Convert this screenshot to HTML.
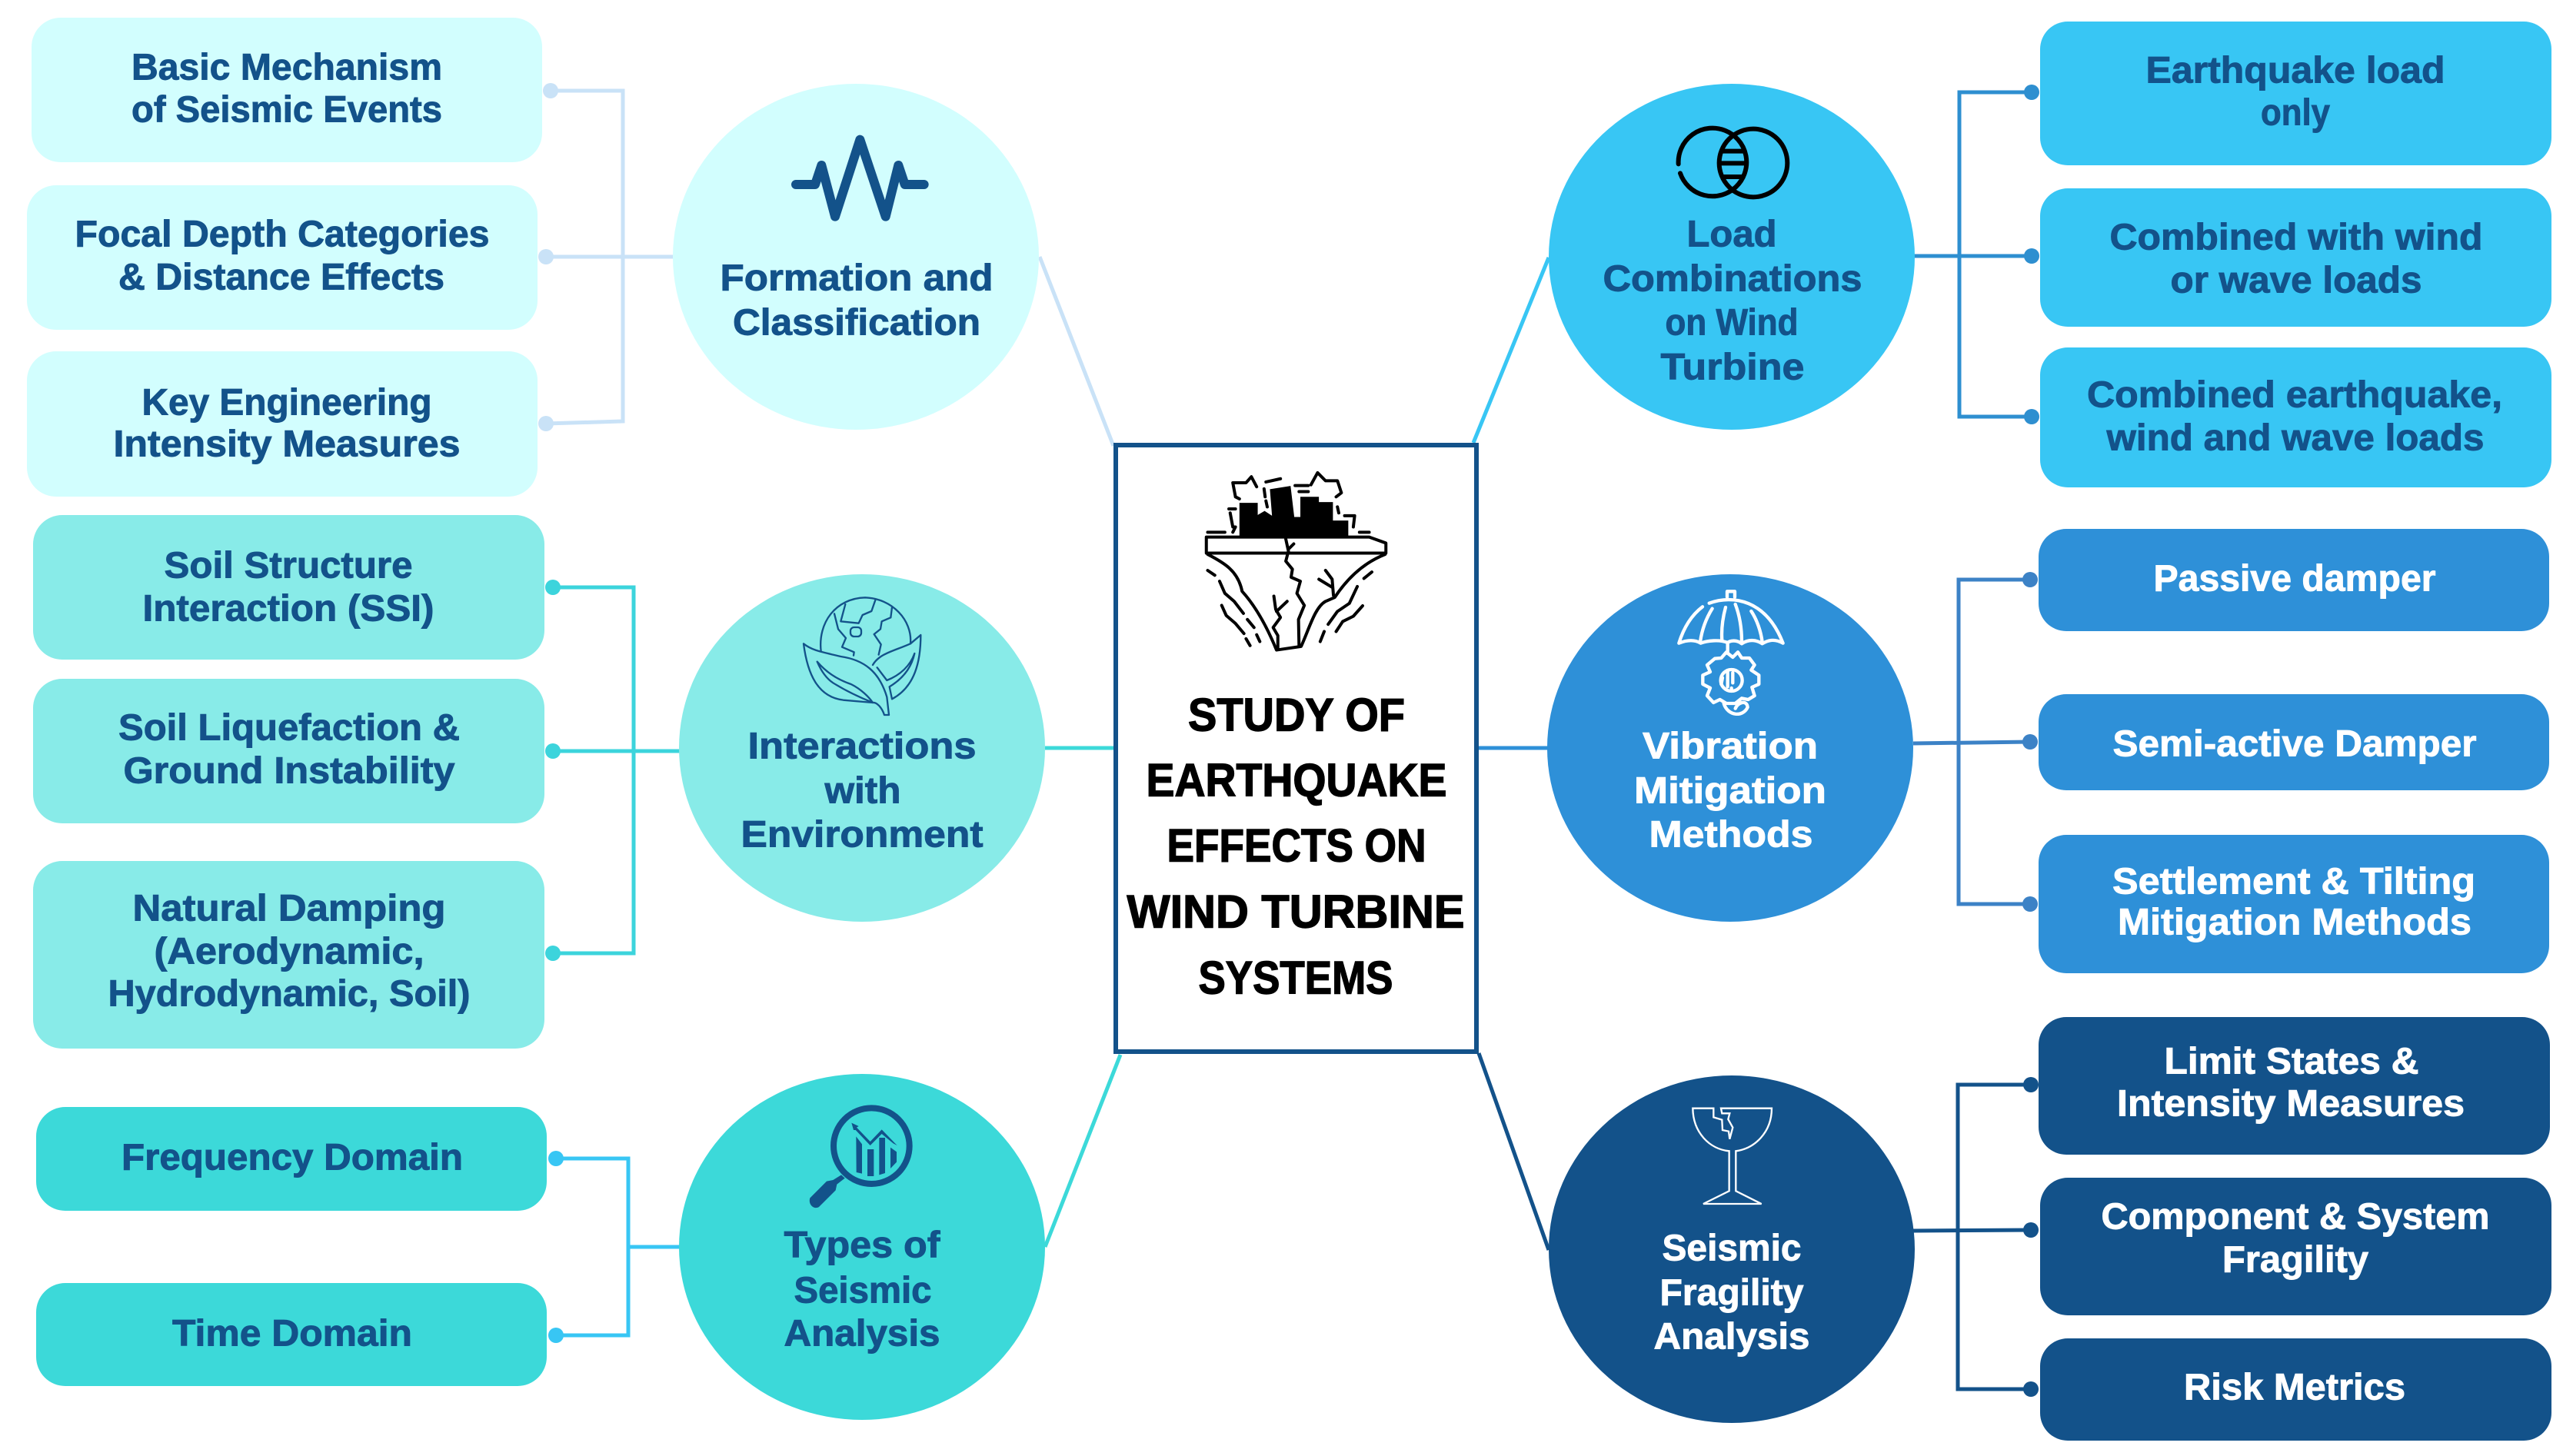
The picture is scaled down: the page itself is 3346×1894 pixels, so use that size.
<!DOCTYPE html>
<html><head><meta charset="utf-8"><style>
html,body{margin:0;padding:0;background:#fff}
svg{display:block}
text{font-family:"Liberation Sans",sans-serif;font-weight:700;font-size:48px;text-anchor:middle}
.d text{fill:#13528a;stroke:#13528a;stroke-width:.9px}
.w text{fill:#fff;stroke:#fff;stroke-width:.9px}
.tt text{fill:#000;stroke:#000;stroke-width:1.4px;font-size:60px}
</style></head><body>
<svg width="3346" height="1894" viewBox="0 0 3346 1894" xmlns="http://www.w3.org/2000/svg">
<rect width="3346" height="1894" fill="#fff"/>

<!-- main connectors -->
<g fill="none" stroke-width="5">
<path d="M1352,334 L1448,580" stroke="#c9e2f7"/>
<path d="M1359,973 H1450" stroke="#3cd9d9"/>
<path d="M1359,1622 L1457,1372" stroke="#3cd9d9"/>
<path d="M2014,335 L1916,576" stroke="#38c6f4"/>
<path d="M1921,973 H2014" stroke="#2e90d8"/>
<path d="M1923,1370 L2014,1626" stroke="#13528a"/>
</g>

<!-- branch connectors -->
<g fill="none" stroke="#c9e2f7" stroke-width="5">
<path d="M716,118 H810 V548 L710,551"/><path d="M710,334 H878"/>
</g>
<g fill="#c9e2f7"><circle cx="716" cy="118" r="10"/><circle cx="710" cy="334" r="10"/><circle cx="710" cy="551" r="10"/></g>
<g fill="none" stroke="#3cd4dc" stroke-width="5">
<path d="M719,764 H824 V1240 H719"/><path d="M719,977 H885"/>
</g>
<g fill="#3cd4dc"><circle cx="719" cy="764" r="10"/><circle cx="719" cy="977" r="10"/><circle cx="719" cy="1240" r="10"/></g>
<g fill="none" stroke="#38c6f4" stroke-width="5">
<path d="M723,1507 H817 V1737 H723"/><path d="M817,1622 L885,1622"/>
</g>
<g fill="#38c6f4"><circle cx="723" cy="1507" r="10"/><circle cx="723" cy="1737" r="10"/></g>
<g fill="none" stroke="#2e8fd0" stroke-width="5">
<path d="M2642,120 H2548 V542 H2642"/><path d="M2488,333 H2642"/>
</g>
<g fill="#2e8fd0"><circle cx="2642" cy="120" r="10"/><circle cx="2642" cy="333" r="10"/><circle cx="2642" cy="542" r="10"/></g>
<g fill="none" stroke="#3c82c6" stroke-width="5">
<path d="M2640,754 H2547 V1176 H2640"/><path d="M2488,967 L2640,965"/>
</g>
<g fill="#3c82c6"><circle cx="2640" cy="754" r="10"/><circle cx="2640" cy="965" r="10"/><circle cx="2640" cy="1176" r="10"/></g>
<g fill="none" stroke="#13528a" stroke-width="5">
<path d="M2641,1411 H2546 V1807 H2641"/><path d="M2488,1601 L2641,1600"/>
</g>
<g fill="#13528a"><circle cx="2641" cy="1411" r="10"/><circle cx="2641" cy="1600" r="10"/><circle cx="2641" cy="1807" r="10"/></g>

<!-- boxes left -->
<g fill="#d2fefe">
<rect x="41" y="23" width="664" height="188" rx="38"/>
<rect x="35" y="241" width="664" height="188" rx="38"/>
<rect x="35" y="457" width="664" height="189" rx="38"/>
</g>
<g fill="#88ebe8">
<rect x="43" y="670" width="665" height="188" rx="38"/>
<rect x="43" y="883" width="665" height="188" rx="38"/>
<rect x="43" y="1120" width="665" height="244" rx="38"/>
</g>
<g fill="#3cd9d9">
<rect x="47" y="1440" width="664" height="135" rx="38"/>
<rect x="47" y="1669" width="664" height="134" rx="38"/>
</g>
<!-- boxes right -->
<g fill="#38c6f4">
<rect x="2653" y="28" width="665" height="187" rx="36"/>
<rect x="2653" y="245" width="665" height="180" rx="36"/>
<rect x="2653" y="452" width="665" height="182" rx="36"/>
</g>
<g fill="#2e90d8">
<rect x="2651" y="688" width="664" height="133" rx="36"/>
<rect x="2651" y="903" width="664" height="125" rx="36"/>
<rect x="2651" y="1086" width="664" height="180" rx="36"/>
</g>
<g fill="#13528a">
<rect x="2651" y="1323" width="665" height="179" rx="36"/>
<rect x="2653" y="1532" width="665" height="179" rx="36"/>
<rect x="2653" y="1741" width="665" height="133" rx="36"/>
</g>

<!-- circles -->
<ellipse cx="1113" cy="334" rx="238" ry="225" fill="#d2fefe"/>
<ellipse cx="1121" cy="973" rx="238" ry="226" fill="#88ebe8"/>
<ellipse cx="1121" cy="1622" rx="238" ry="225" fill="#3cd9d9"/>
<ellipse cx="2252" cy="334" rx="238" ry="225" fill="#38c6f4"/>
<ellipse cx="2250" cy="973" rx="238" ry="226" fill="#2e90d8"/>
<ellipse cx="2252" cy="1625" rx="238" ry="226" fill="#13528a"/>

<!-- center box -->
<rect x="1451" y="579" width="469" height="789" fill="#fff" stroke="#13528a" stroke-width="6"/>

<!-- earthquake icon -->
<g transform="translate(1400,560) scale(.3444,.523)">
<path d="M615,268 L615,180 L684,180 L684,210 L710,200 L738,212 L730,146 L808,138 L822,215 L845,215 L845,165 L915,165 L915,178 L968,178 L968,224 L1026,224 L1026,268 Z" fill="#000"/>
<g fill="none" stroke="#000" stroke-width="4" stroke-linecap="round" stroke-linejoin="round">
<path vector-effect="non-scaling-stroke" d="M490,265 L1105,265 L1168,280 L1168,305 L490,305 Z"/>
<path vector-effect="non-scaling-stroke" d="M495,308 C560,330 610,350 625,400 C680,440 720,490 755,546 L848,537 C880,490 900,440 940,425 L975,415 C1020,370 1080,330 1165,308"/>
<path vector-effect="non-scaling-stroke" d="M790,270 L800,300 L790,325 L815,345 L810,365 L845,375 L832,405 L860,435 L838,470 L840,535 M800,295 L820,282"/>
<path vector-effect="non-scaling-stroke" d="M760,540 L760,510 L742,490 L770,465 L752,445 L745,412 M755,450 L795,425"/>
<path vector-effect="non-scaling-stroke" d="M970,410 L965,370 L940,348 M965,390 L915,370"/>
<path vector-effect="non-scaling-stroke" d="M540,375 L560,405 L595,425 L630,455 M548,435 L565,460 L600,480 L632,505 M495,348 L522,360 M645,470 L670,490 M640,518 L655,535 M680,508 L692,525"/>
<path vector-effect="non-scaling-stroke" d="M1060,388 L1030,430 L985,450 L950,482 M1080,436 L1045,462 L1005,475 L980,500 M1085,368 L1115,352 M935,500 L920,525"/>
<path vector-effect="non-scaling-stroke" d="M600,165 L590,130 L640,130 L660,115 L680,140 M600,165 L615,170 M885,135 L910,105 L940,125 L985,125 L1000,155 L980,165 M715,128 L770,120 M825,137 L875,137 M840,152 L875,152 M708,145 L712,165 M715,175 L720,190 M985,190 L990,205 M1012,212 L1050,212 L1045,240 M1068,253 L1105,253 M495,253 L560,253 M575,195 L600,195 M580,205 L590,240 L600,240 L590,253"/>
</g>
</g>

<!-- wave icon -->
<g transform="translate(980,130) scale(.3333)" fill="none" stroke="#13528a" stroke-width="36" stroke-linecap="round" stroke-linejoin="round">
<path d="M165,330 H240 L265,255 L318,455 L415,155 L515,455 L565,255 L590,330 H665"/>
</g>

<!-- venn icon -->
<g transform="translate(2150,130) scale(.3333)" fill="none" stroke="#000" stroke-width="18" stroke-linecap="round">
<path d="M98,250 A133,133 0 1 1 105,286"/>
<circle cx="390" cy="246" r="133"/>
<path d="M270,200 H350 M258,247 H362 M275,300 H345"/>
</g>

<!-- globe leaf icon -->
<g transform="translate(1000,750) scale(.3333)" fill="none" stroke="#13528a" stroke-width="7" stroke-linejoin="round" stroke-linecap="round">
<path d="M203,292 C190,180 260,85 375,82 C480,85 560,170 552,262"/>
<path d="M298,108 L280,175 L350,182 L365,150 L400,135 L415,92"/>
<path d="M255,145 L270,205 L300,240 L285,275 L332,295 L330,308"/>
<path d="M480,120 L475,160 L440,175 L435,205 L410,225 L437,265 L428,305"/>
<rect x="318" y="198" width="42" height="36" rx="14"/>
<path d="M135,262 C170,290 210,295 280,312 C370,325 430,370 460,470 L468,540 L450,540 C440,510 420,490 405,492 L290,482 C190,470 150,380 135,262 Z"/>
<path d="M188,332 C220,370 260,400 320,420 C360,440 390,470 405,492 C350,470 290,440 250,415 C220,395 200,360 188,332 Z"/>
<path d="M405,345 C430,300 490,290 552,262 L592,228 C592,330 570,430 480,478 L470,430 C520,400 555,360 568,300 C550,350 510,385 460,405 L422,355"/>
</g>

<!-- umbrella gear icon -->
<g transform="translate(2150,750) scale(.3333)" fill="none" stroke="#fff" stroke-width="13" stroke-linecap="round" stroke-linejoin="round">
<path d="M218,104 C310,70 440,90 506,260 C470,240 445,250 425,262 C400,245 370,245 345,262 C325,245 300,250 290,258 C260,245 210,250 185,260 C160,245 130,248 100,260 C120,195 150,150 192,118"/>
<path d="M288,80 V58 H318 V80 M230,125 C205,165 190,205 183,255 M282,120 C270,165 265,210 268,250 M320,108 C340,160 345,210 345,255 M382,135 C405,170 420,215 425,255 M290,258 V300"/>
<path d="M240,320 L265,318 L285,295 L310,315 L330,295 L345,318 L375,318 L395,345 L382,365 L412,385 L412,420 L385,432 L395,465 L370,480 L345,475 L320,495 L285,495 L260,480 L235,492 L210,465 L222,435 L193,420 L193,385 L222,372 L210,345 Z"/>
<circle cx="305" cy="405" r="42"/>
<path d="M290,370 V430 M270,395 L265,420 M310,375 V415 M305,435 V440"/>
<path d="M275,495 C290,545 350,550 368,510 C365,480 330,490 320,515"/>
</g>

<!-- magnifier icon -->
<g transform="translate(1020,1420) scale(.3333)" fill="#13528a">
<ellipse cx="340" cy="212" rx="148" ry="148" fill="none" stroke="#13528a" stroke-width="24"/>
<path d="M222,325 L236,338 L205,362 L200,385 L135,450 C115,462 92,440 100,415 L165,350 L190,345 Z"/>
<path d="M280,175 L303,205 V320 L281,315 Z M324,225 H349 V330 H324 Z M370,180 H393 V318 L370,325 Z M414,218 L438,235 V275 L414,300 Z"/>
<path d="M262,122 L290,135 L282,140 L335,195 L380,148 L430,200 L440,210 L425,202 L380,165 L335,210 L278,150 L270,150 Z"/>
</g>

<!-- broken glass icon -->
<g transform="translate(2160,1420) scale(.3333)" fill="none" stroke="#fff" stroke-width="7" stroke-linejoin="miter">
<path d="M205,65 H124 C125,160 190,225 266,232 V388 L165,438 H392 L292,388 V232 C365,222 432,160 432,65 H234 L238,85 L268,85 L262,108 L280,140 L268,185 L264,155 L240,150 L238,110 L205,100 Z"/>
</g>

<!-- title -->
<g class="tt" transform="translate(0,-1.5)">
<text x="1686" y="952" textLength="282" lengthAdjust="spacingAndGlyphs">STUDY OF</text>
<text x="1686" y="1037" textLength="391" lengthAdjust="spacingAndGlyphs">EARTHQUAKE</text>
<text x="1686" y="1122" textLength="337" lengthAdjust="spacingAndGlyphs">EFFECTS ON</text>
<text x="1685" y="1208" textLength="439" lengthAdjust="spacingAndGlyphs">WIND TURBINE</text>
<text x="1685" y="1294" textLength="253" lengthAdjust="spacingAndGlyphs">SYSTEMS</text>
</g>

<!-- left box text -->
<g class="d" transform="translate(0,-1.5)">
<text x="373" y="105" textLength="404" lengthAdjust="spacingAndGlyphs">Basic Mechanism</text>
<text x="373" y="160" textLength="404" lengthAdjust="spacingAndGlyphs">of Seismic Events</text>
<text x="367" y="322" textLength="539" lengthAdjust="spacingAndGlyphs">Focal Depth Categories</text>
<text x="366" y="378" textLength="424" lengthAdjust="spacingAndGlyphs">&amp; Distance Effects</text>
<text x="373" y="541" textLength="377" lengthAdjust="spacingAndGlyphs">Key Engineering</text>
<text x="373" y="595" textLength="451" lengthAdjust="spacingAndGlyphs">Intensity Measures</text>
<text x="375" y="753" textLength="323" lengthAdjust="spacingAndGlyphs">Soil Structure</text>
<text x="375" y="809" textLength="379" lengthAdjust="spacingAndGlyphs">Interaction (SSI)</text>
<text x="376" y="964" textLength="444" lengthAdjust="spacingAndGlyphs">Soil Liquefaction &amp;</text>
<text x="376" y="1020" textLength="431" lengthAdjust="spacingAndGlyphs">Ground Instability</text>
<text x="376" y="1199" textLength="407" lengthAdjust="spacingAndGlyphs">Natural Damping</text>
<text x="376" y="1255" textLength="351" lengthAdjust="spacingAndGlyphs">(Aerodynamic,</text>
<text x="376" y="1310" textLength="471" lengthAdjust="spacingAndGlyphs">Hydrodynamic, Soil)</text>
<text x="380" y="1523" textLength="444" lengthAdjust="spacingAndGlyphs">Frequency Domain</text>
<text x="380" y="1752" textLength="312" lengthAdjust="spacingAndGlyphs">Time Domain</text>

<!-- circle text -->
<text x="1114" y="379" textLength="355" lengthAdjust="spacingAndGlyphs">Formation and</text>
<text x="1114" y="437" textLength="322" lengthAdjust="spacingAndGlyphs">Classification</text>
<text x="1121" y="988" textLength="297" lengthAdjust="spacingAndGlyphs">Interactions</text>
<text x="1122" y="1046" textLength="99" lengthAdjust="spacingAndGlyphs">with</text>
<text x="1121" y="1103" textLength="315" lengthAdjust="spacingAndGlyphs">Environment</text>
<text x="1121" y="1637" textLength="203" lengthAdjust="spacingAndGlyphs">Types of</text>
<text x="1122" y="1696" textLength="179" lengthAdjust="spacingAndGlyphs">Seismic</text>
<text x="1121" y="1752" textLength="203" lengthAdjust="spacingAndGlyphs">Analysis</text>
<text x="2252" y="322" textLength="117" lengthAdjust="spacingAndGlyphs">Load</text>
<text x="2253" y="380" textLength="337" lengthAdjust="spacingAndGlyphs">Combinations</text>
<text x="2252" y="437" textLength="173" lengthAdjust="spacingAndGlyphs">on Wind</text>
<text x="2253" y="495" textLength="187" lengthAdjust="spacingAndGlyphs">Turbine</text>

<!-- right top box text -->
<text x="2985" y="109" textLength="389" lengthAdjust="spacingAndGlyphs">Earthquake load</text>
<text x="2985" y="164" textLength="90" lengthAdjust="spacingAndGlyphs">only</text>
<text x="2986" y="326" textLength="485" lengthAdjust="spacingAndGlyphs">Combined with wind</text>
<text x="2986" y="382" textLength="327" lengthAdjust="spacingAndGlyphs">or wave loads</text>
<text x="2984" y="531" textLength="540" lengthAdjust="spacingAndGlyphs">Combined earthquake,</text>
<text x="2985" y="587" textLength="491" lengthAdjust="spacingAndGlyphs">wind and wave loads</text>
</g>

<g class="w" transform="translate(0,-1.5)">
<text x="2250" y="988" textLength="228" lengthAdjust="spacingAndGlyphs">Vibration</text>
<text x="2250" y="1046" textLength="250" lengthAdjust="spacingAndGlyphs">Mitigation</text>
<text x="2251" y="1103" textLength="213" lengthAdjust="spacingAndGlyphs">Methods</text>
<text x="2252" y="1641" textLength="181" lengthAdjust="spacingAndGlyphs">Seismic</text>
<text x="2252" y="1699" textLength="187" lengthAdjust="spacingAndGlyphs">Fragility</text>
<text x="2252" y="1756" textLength="203" lengthAdjust="spacingAndGlyphs">Analysis</text>
<text x="2984" y="770" textLength="367" lengthAdjust="spacingAndGlyphs">Passive damper</text>
<text x="2984" y="985" textLength="473" lengthAdjust="spacingAndGlyphs">Semi-active Damper</text>
<text x="2983" y="1164" textLength="472" lengthAdjust="spacingAndGlyphs">Settlement &amp; Tilting</text>
<text x="2984" y="1217" textLength="460" lengthAdjust="spacingAndGlyphs">Mitigation Methods</text>
<text x="2980" y="1398" textLength="331" lengthAdjust="spacingAndGlyphs">Limit States &amp;</text>
<text x="2979" y="1453" textLength="452" lengthAdjust="spacingAndGlyphs">Intensity Measures</text>
<text x="2985" y="1600" textLength="505" lengthAdjust="spacingAndGlyphs">Component &amp; System</text>
<text x="2985" y="1656" textLength="190" lengthAdjust="spacingAndGlyphs">Fragility</text>
<text x="2984" y="1822" textLength="288" lengthAdjust="spacingAndGlyphs">Risk Metrics</text>
</g>
</svg>
</body></html>
